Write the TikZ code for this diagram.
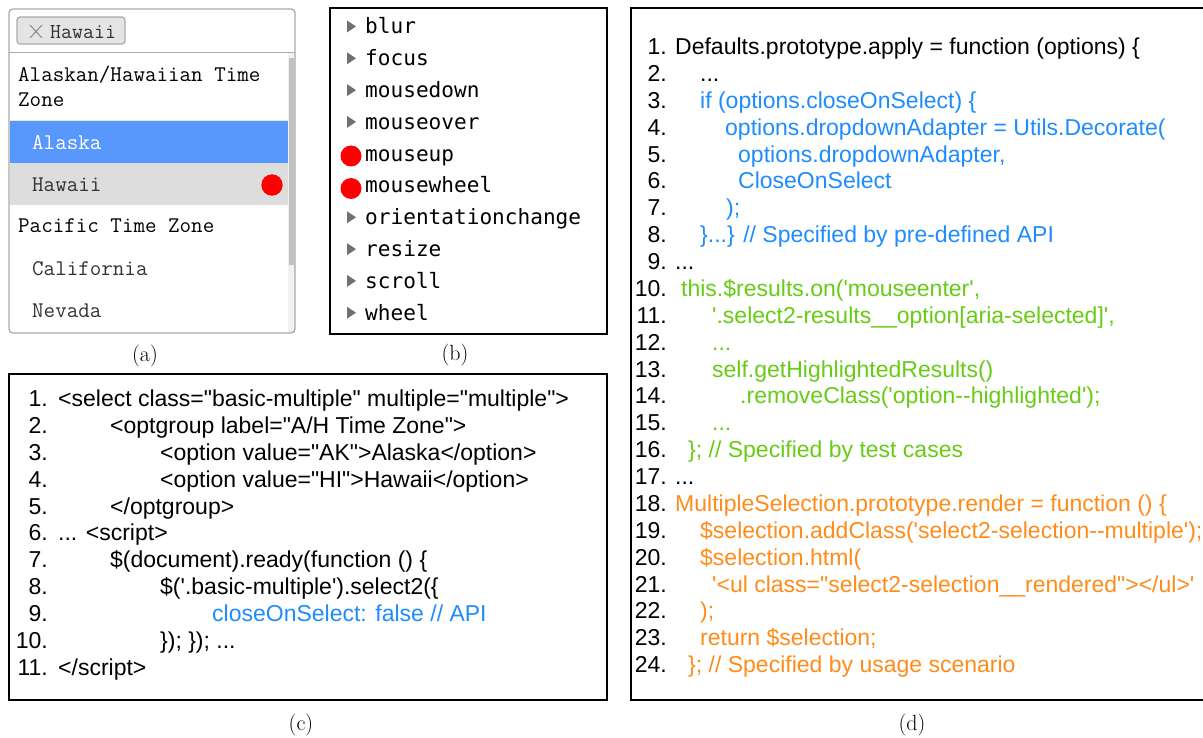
\documentclass[tikz,border=0pt]{standalone}
\usepackage{fontspec}
\newfontfamily\codefont[Ligatures=TeXOff]{Liberation Sans}
\newfontfamily\bmono{DejaVu Sans Mono}
\definecolor{cblue}{HTML}{1E8CFF}
\definecolor{cgreen}{HTML}{66CC14}
\definecolor{corange}{HTML}{FF8C1A}
\definecolor{selblue}{HTML}{5897FB}
\definecolor{hovgray}{HTML}{DDDDDD}
\definecolor{bordergray}{HTML}{AAAAAA}
\definecolor{tagfill}{HTML}{E4E4E4}
\definecolor{trigray}{HTML}{707070}
\definecolor{dotred}{HTML}{FF0000}
\definecolor{trackgray}{HTML}{F1F1F1}
\definecolor{thumbgray}{HTML}{C1C1C1}
\definecolor{atext}{HTML}{333333}
\newcommand\codeln[7]{%
  \node[#1num] (#1n#2) at (#3,{#4+(#2-1)*26.88}) {#2.};
  \node[#1code,text=#6] (#1t#2) at (#5,{#4+(#2-1)*26.88}) {#7};}
\begin{document}
\begin{tikzpicture}[x=1pt,y=-1pt,
  amono/.style={font=\ttfamily\fontsize{22.4}{26}\selectfont, inner sep=0, anchor=base west, text=atext},
  bitem/.style={font=\bmono\fontsize{21.1}{24}\selectfont, inner sep=0, anchor=base west, text=black},
  cnum/.style={font=\codefont\fontsize{23}{27}\selectfont, inner sep=0, anchor=base east, text=black},
  ccode/.style={font=\codefont\fontsize{23}{27}\selectfont, inner sep=0, anchor=base west},
  dnum/.style={font=\codefont\fontsize{23}{27}\selectfont, inner sep=0, anchor=base east, text=black},
  dcode/.style={font=\codefont\fontsize{23}{27}\selectfont, inner sep=0, anchor=base west},
  caplabel/.style={font=\fontsize{22}{26}\selectfont, inner sep=0},
  panel/.style={draw=black, line width=2}]
\useasboundingbox (0,0) rectangle (1203,738);
\fill[white] (0,0) rectangle (1203,738);
\clip (0,0) rectangle (1203,738);

% ---------- (a) ----------
\fill[white] (9,9) rectangle (295,333);
\fill[selblue] (9.6,121) rectangle (288,163);
\fill[hovgray] (9.6,163) rectangle (288,205);
\draw[hovgray!70, line width=1] (9.6,120.5) -- (288,120.5);
\fill[trackgray] (288,53.5) rectangle (294.5,332.5);
\fill[thumbgray] (289,58) rectangle (294,265);
\draw[bordergray, line width=1] (9,53) -- (295,53);
\draw[bordergray, line width=1.3, rounded corners=4] (9,9) rectangle (295,333);
\draw[bordergray, fill=tagfill, line width=1.2, rounded corners=3] (17,17) rectangle (125,44);
\draw[black!45, line width=1] (30,25) -- (42,38) (42,25) -- (30,38);
\node[amono, font=\ttfamily\fontsize{21.3}{26}\selectfont] (atag) at (50,39) {Hawaii};
\node[amono, text=black] (ahead1) at (18,82) {Alaskan/Hawaiian Time};
\node[amono, text=black] (ahead2) at (18,107) {Zone};
\node[amono, text=white] (aak) at (32,150) {Alaska};
\node[amono] (ahi) at (32,192) {Hawaii};
\node[amono, text=black] (apac) at (18,233) {Pacific Time Zone};
\node[amono] (aca) at (32,276) {California};
\node[amono] (anv) at (32,318) {Nevada};
\fill[dotred] (272,185) circle (10.7);
\node[caplabel] (la) at (145,356) {(a)};

% ---------- (b) ----------
\draw[panel] (330,8) rectangle (607,334);
\foreach \w [count=\i] in {blur,focus,mousedown,mouseover,mouseup,mousewheel,orientationchange,resize,scroll,wheel}{
  \fill[trigray] (347,{20.5+(\i-1)*31.8}) -- ++(0,12) -- ++(9,-6) -- cycle;
  \node[bitem] (b\i) at (365,{34+(\i-1)*31.8}) {\w};
}
\fill[dotred] (351,156) circle (10.5);
\fill[dotred] (351,188.5) circle (10.5);
\node[caplabel] (lb) at (455,355) {(b)};

% ---------- (c) ----------
\draw[panel] (9,374) rectangle (607,700);
\codeln{c}{1}{48}{406.5}{58}{black}{<select class="basic-multiple" multiple="multiple">}
\codeln{c}{2}{48}{406.5}{110}{black}{<optgroup label="A/H Time Zone">}
\codeln{c}{3}{48}{406.5}{160}{black}{<option value="AK">Alaska</option>}
\codeln{c}{4}{48}{406.5}{160}{black}{<option value="HI">Hawaii</option>}
\codeln{c}{5}{48}{406.5}{110}{black}{</optgroup>}
\codeln{c}{6}{48}{406.5}{58}{black}{... <script>}
\codeln{c}{7}{48}{406.5}{110}{black}{\$(document).ready(function () \{}
\codeln{c}{8}{48}{406.5}{160}{black}{\$('.basic-multiple').select2(\{}
\codeln{c}{9}{48}{406.5}{212}{cblue}{closeOnSelect: false // API}
\codeln{c}{10}{48}{406.5}{160}{black}{\}); \}); ...}
\codeln{c}{11}{48}{406.5}{58}{black}{</script>}
\node[caplabel] (lc) at (301,725) {(c)};

% ---------- (d) ----------
\draw[panel] (631,8) rectangle (1215,700);
\codeln{d}{1}{667}{54.5}{675}{black}{Defaults.prototype.apply = function (options) \{}
\codeln{d}{2}{667}{54.5}{700}{black}{...}
\codeln{d}{3}{667}{54.5}{700}{cblue}{if (options.closeOnSelect) \{}
\codeln{d}{4}{667}{54.5}{725}{cblue}{options.dropdownAdapter = Utils.Decorate(}
\codeln{d}{5}{667}{54.5}{738}{cblue}{options.dropdownAdapter,}
\codeln{d}{6}{667}{54.5}{738}{cblue}{CloseOnSelect}
\codeln{d}{7}{667}{54.5}{726}{cblue}{);}
\codeln{d}{8}{667}{54.5}{700}{cblue}{\}...\} // Specified by pre-defined API}
\codeln{d}{9}{667}{54.5}{675}{black}{...}
\codeln{d}{10}{667}{54.5}{681}{cgreen}{this.\$results.on('mouseenter',}
\codeln{d}{11}{667}{54.5}{712}{cgreen}{'.select2-results\_\_option[aria-selected]',}
\codeln{d}{12}{667}{54.5}{712}{cgreen}{...}
\codeln{d}{13}{667}{54.5}{712}{cgreen}{self.getHighlightedResults()}
\codeln{d}{14}{667}{54.5}{740}{cgreen}{.removeClass('option--highlighted');}
\codeln{d}{15}{667}{54.5}{712}{cgreen}{...}
\codeln{d}{16}{667}{54.5}{688}{cgreen}{\}; // Specified by test cases}
\codeln{d}{17}{667}{54.5}{675}{black}{...}
\codeln{d}{18}{667}{54.5}{675}{corange}{MultipleSelection.prototype.render = function () \{}
\codeln{d}{19}{667}{54.5}{700}{corange}{\$selection.addClass('select2-selection--multiple');}
\codeln{d}{20}{667}{54.5}{700}{corange}{\$selection.html(}
\codeln{d}{21}{667}{54.5}{712}{corange}{'<ul class="select2-selection\_\_rendered"></ul>'}
\codeln{d}{22}{667}{54.5}{700}{corange}{);}
\codeln{d}{23}{667}{54.5}{700}{corange}{return \$selection;}
\codeln{d}{24}{667}{54.5}{688}{corange}{\}; // Specified by usage scenario}
\node[caplabel] (ld) at (912,725) {(d)};
\end{tikzpicture}
\end{document}
